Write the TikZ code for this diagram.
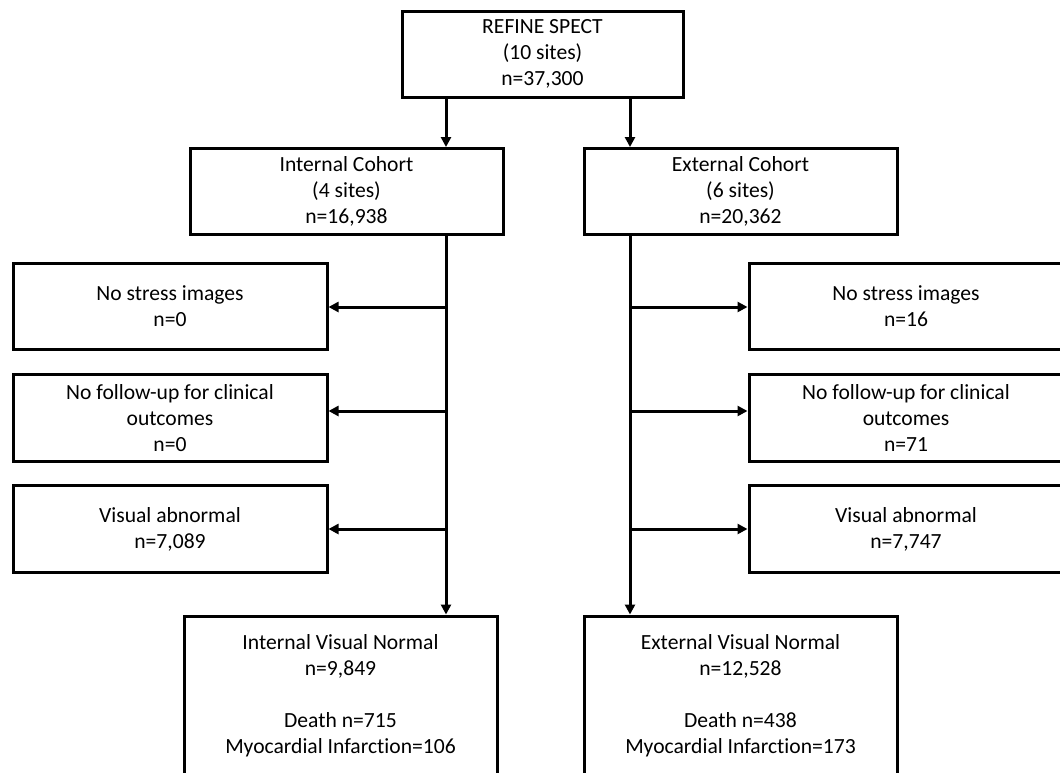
\documentclass[tikz,border=0pt]{standalone}
\usepackage{fontspec}
\setmainfont[Ligatures={NoCommon}]{Carlito}
\usetikzlibrary{arrows.meta}
\begin{document}
\begin{tikzpicture}[x=1pt,y=-1pt,
  cbox/.style={draw, line width=3pt, align=center, inner sep=0pt,
    font=\fontsize{21.6}{26}\selectfont, minimum width=#1},
  cbox/.default=313pt,
  arr/.style={line width=3pt, -{Triangle[length=10pt,width=10pt]}},
  ln/.style={line width=3pt}]
\clip (0,0) rectangle (1060,772);
\fill[white] (0,0) rectangle (1060,772);

\node[cbox=281pt, minimum height=86pt] (top) at (542.5,54) {REFINE SPECT\\(10 sites)\\n=37,300};
\node[cbox, minimum height=86pt] (int) at (346.5,191.5) {Internal Cohort\\(4 sites)\\n=16,938};
\node[cbox, minimum height=86pt] (ext) at (740.5,191.5) {External Cohort\\(6 sites)\\n=20,362};

\node[cbox=314pt, minimum height=86pt] (l1) at (170,306.5) {No stress images\\n=0};
\node[cbox=314pt, minimum height=87pt] (l2) at (170,418) {No follow-up for clinical\\outcomes\\n=0};
\node[cbox=314pt, minimum height=87pt] (l3) at (170,529) {Visual abnormal\\n=7,089};

\node[cbox=314pt, minimum height=86pt] (r1) at (906,306.5) {No stress images\\n=16};
\node[cbox=314pt, minimum height=87pt] (r2) at (906,418) {No follow-up for clinical\\outcomes\\n=71};
\node[cbox=314pt, minimum height=87pt] (r3) at (906,529) {Visual abnormal\\n=7,747};

\node[cbox, minimum height=160pt, anchor=north] (ib) at (340.5,614.5) {Internal Visual Normal\\n=9,849\\[26pt]Death n=715\\Myocardial Infarction=106};
\node[cbox, minimum height=160pt, anchor=north] (eb) at (740.5,614.5) {External Visual Normal\\n=12,528\\[26pt]Death n=438\\Myocardial Infarction=173};

\coordinate (cl) at (446,0);
\coordinate (cr) at (630,0);
\coordinate (y1) at (0,307);
\coordinate (y2) at (0,411);
\coordinate (y3) at (0,529);

\draw[arr] (top.south -| cl) -- (int.north -| cl);
\draw[arr] (top.south -| cr) -- (ext.north -| cr);

\draw[arr] (int.south -| cl) -- (ib.north -| cl);
\draw[arr] (ext.south -| cr) -- (eb.north -| cr);

\draw[arr] (cl |- y1) -- (l1.east |- y1);
\draw[arr] (cl |- y2) -- (l2.east |- y2);
\draw[arr] (cl |- y3) -- (l3.east |- y3);

\draw[arr] (cr |- y1) -- (r1.west |- y1);
\draw[arr] (cr |- y2) -- (r2.west |- y2);
\draw[arr] (cr |- y3) -- (r3.west |- y3);
\end{tikzpicture}
\end{document}
